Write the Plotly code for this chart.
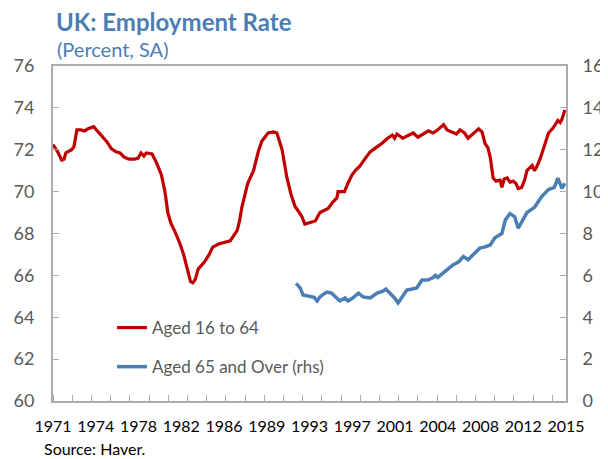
import plotly.graph_objects as go

# ---- data ----
years_1664 = [1971.0, 1971.4, 1971.75, 1971.95, 1972.1, 1972.6, 1972.8, 1973.05, 1973.4, 1973.7,
              1974.0, 1974.5, 1974.8, 1975.3, 1975.6, 1976.0, 1976.4, 1976.75, 1977.1, 1977.5,
              1978.0, 1978.3, 1978.55, 1978.8, 1979.0, 1979.5, 1979.9, 1980.3, 1980.6, 1980.85,
              1981.1, 1981.45, 1981.9, 1982.2, 1982.5, 1982.8, 1983.0, 1983.2, 1983.45, 1984.0,
              1984.4, 1984.7, 1985.2, 1985.9, 1986.2, 1986.8, 1987.0, 1987.2, 1987.5, 1987.7,
              1988.2, 1988.6, 1988.9, 1989.2, 1989.45, 1989.9, 1990.2, 1990.65, 1991.05, 1991.4,
              1991.75, 1992.0, 1992.35, 1992.6, 1993.0, 1993.5, 1993.9, 1994.3, 1994.6, 1995.0,
              1995.35, 1995.45, 1996.0, 1996.3, 1996.65, 1997.0, 1997.3, 1997.8, 1998.2, 1998.7,
              1999.2, 1999.7, 2000.1, 2000.3, 2000.5, 2001.0, 2001.5, 2001.9, 2002.3, 2002.7,
              2003.2, 2003.6, 2004.0, 2004.5, 2004.8, 2005.2, 2005.6, 2005.9, 2006.3, 2006.6,
              2006.9, 2007.5, 2007.8, 2008.05, 2008.3, 2008.5, 2008.75, 2009.0, 2009.35, 2009.5,
              2009.7, 2009.95, 2010.2, 2010.45, 2010.7, 2010.9, 2011.2, 2011.45, 2011.65, 2012.1,
              2012.3, 2012.5, 2012.8, 2013.0, 2013.3, 2013.5, 2013.9, 2014.3, 2014.5, 2014.65,
              2014.9]
rate_1664 = [72.25, 71.9, 71.5, 71.55, 71.85, 72.0, 72.15, 72.95, 72.95, 72.9,
             73.0, 73.1, 72.9, 72.6, 72.4, 72.05, 71.9, 71.85, 71.65, 71.55,
             71.55, 71.6, 71.85, 71.7, 71.85, 71.8, 71.35, 70.8, 70.0, 69.0,
             68.5, 68.1, 67.5, 67.0, 66.3, 65.7, 65.65, 65.8, 66.3, 66.65,
             67.0, 67.35, 67.5, 67.6, 67.65, 68.15, 68.6, 69.25, 70.0, 70.4,
             71.0, 71.9, 72.4, 72.6, 72.8, 72.85, 72.8, 72.0, 70.7, 69.9,
             69.3, 69.1, 68.8, 68.45, 68.5, 68.6, 69.0, 69.1, 69.2, 69.5,
             69.7, 70.0, 70.0, 70.4, 70.8, 71.05, 71.2, 71.6, 71.9, 72.1,
             72.3, 72.55, 72.7, 72.55, 72.75, 72.55, 72.7, 72.8, 72.6, 72.75,
             72.9, 72.8, 72.95, 73.2, 72.95, 72.85, 72.75, 72.95, 72.8, 72.55,
             72.7, 73.0, 72.85, 72.3, 72.1, 71.65, 70.65, 70.5, 70.55, 70.2,
             70.6, 70.65, 70.45, 70.5, 70.4, 70.15, 70.2, 70.55, 71.0, 71.25,
             71.0, 71.2, 71.6, 71.95, 72.5, 72.8, 73.05, 73.4, 73.3, 73.45,
             73.9]

years_65 = [1991.85, 1992.05, 1992.2, 1992.45, 1993.05, 1993.4, 1993.65, 1993.9, 1994.2, 1994.5,
            1994.9, 1995.2, 1995.6, 1996.05, 1996.3, 1996.7, 1997.2, 1997.6, 1998.2, 1998.8,
            1999.3, 1999.55, 1999.9, 2000.3, 2000.6, 2000.9, 2001.35, 2001.8, 2002.2, 2002.65,
            2003.15, 2003.6, 2003.8, 2004.0, 2004.4, 2004.8, 2005.3, 2005.8, 2006.2, 2006.6,
            2007.1, 2007.6, 2008.0, 2008.5, 2008.9, 2009.5, 2009.8, 2010.2, 2010.6, 2010.9,
            2011.2, 2011.65, 2012.3, 2012.9, 2013.5, 2014.0, 2014.3, 2014.5, 2014.65, 2014.9]
rate_65 = [5.62, 5.5, 5.4, 5.06, 4.97, 4.95, 4.78, 4.97, 5.1, 5.2,
           5.15, 5.0, 4.78, 4.92, 4.78, 4.92, 5.15, 4.97, 4.92, 5.15,
           5.25, 5.35, 5.15, 4.92, 4.68, 4.92, 5.3, 5.35, 5.4, 5.78,
           5.78, 5.9, 6.0, 5.9, 6.1, 6.3, 6.5, 6.65, 6.9, 6.75,
           7.0, 7.3, 7.35, 7.45, 7.8, 8.0, 8.65, 8.95, 8.8, 8.25,
           8.55, 9.0, 9.25, 9.75, 10.1, 10.2, 10.65, 10.3, 10.15, 10.4]

x_tick_labels = ["1971", "1974", "1978", "1982", "1986", "1989", "1993",
                 "1997", "2001", "2004", "2008", "2012", "2015"]
x_start, x_end = 1971.0, 2015.0
x_tick_pos = [x_start + i * (x_end - x_start) / (len(x_tick_labels) - 1)
              for i in range(len(x_tick_labels))]

RED = "#C00000"
BLUE = "#4A7EB4"
GRID = "#ABABAB"
FONT = "Lato"

# the page body has an 8px margin, so the figure is drawn 8px right and down
W, H = 600, 451

fig = go.Figure()
fig.add_trace(go.Scatter(x=years_1664, y=rate_1664, mode="lines", name="Aged 16 to 64",
                         line=dict(color=RED, width=3.2), legendgroup="a"))
fig.add_trace(go.Scatter(x=years_65, y=rate_65, mode="lines", name="Aged 65 and Over (rhs)",
                         line=dict(color=BLUE, width=3.5), yaxis="y2", legendgroup="b"))

fig.update_layout(
    width=W, height=H,
    margin=dict(l=45, r=42, t=58, b=58, autoexpand=False),
    paper_bgcolor="white", plot_bgcolor="white",
    font=dict(family=FONT, color="#595959", size=17),
    showlegend=True,
    legend=dict(x=(112 - 53) / 513, xanchor="left", y=(401 - 310) / 335, yanchor="top",
                bgcolor="rgba(0,0,0,0)", font=dict(family=FONT, size=17, color="#595959"),
                tracegroupgap=14, traceorder="grouped"),
    xaxis=dict(range=[x_start, x_end], tickmode="array", tickvals=x_tick_pos,
               ticktext=x_tick_labels, ticks="", showgrid=False, zeroline=False,
               showline=True, linecolor=GRID, linewidth=2, mirror=True, automargin=False,
               tickfont=dict(family=FONT, size=16, color="#000000"),
               ticklabelstandoff=10,
               minor=dict(ticks="inside", ticklen=6, tickcolor=GRID, tickwidth=1,
                          tick0=x_start, dtick=1.647, showgrid=False)),
    yaxis=dict(range=[60, 76], dtick=2, ticks="inside", ticklen=6, tickcolor=GRID,
               tickwidth=1, showgrid=False, zeroline=False, showline=True, automargin=False,
               linecolor=GRID, linewidth=2, tickfont=dict(family=FONT, size=18, color="#595959"),
               ticklabelstandoff=13),
    yaxis2=dict(range=[0, 16], dtick=2, overlaying="y", side="right", ticks="inside",
                ticklen=6, tickcolor=GRID, tickwidth=1, showgrid=False, zeroline=False,
                showline=True, linecolor=GRID, linewidth=2, automargin=False,
                tickfont=dict(family=FONT, size=18, color="#595959"),
                ticklabelstandoff=11),
    annotations=[
        dict(text="<b>UK: Employment Rate</b>", xref="paper", yref="paper", x=(54 - 53) / 513,
             y=(401 - 22) / 335, xanchor="left", yanchor="middle", showarrow=False,
             font=dict(family=FONT, size=24, color="#4A7EB4")),
        dict(text="(Percent, SA)", xref="paper", yref="paper", x=(55 - 53) / 513,
             y=(401 - 49) / 335, xanchor="left", yanchor="middle", showarrow=False,
             font=dict(family=FONT, size=20, color="#4A7EB4")),
        dict(text="Source: Haver.", xref="paper", yref="paper", x=(42 - 53) / 513,
             y=-(448 - 401) / 335, xanchor="left", yanchor="middle", showarrow=False,
             font=dict(family=FONT, size=16, color="#000000")),
    ],
)

fig.write_html("out.html")
